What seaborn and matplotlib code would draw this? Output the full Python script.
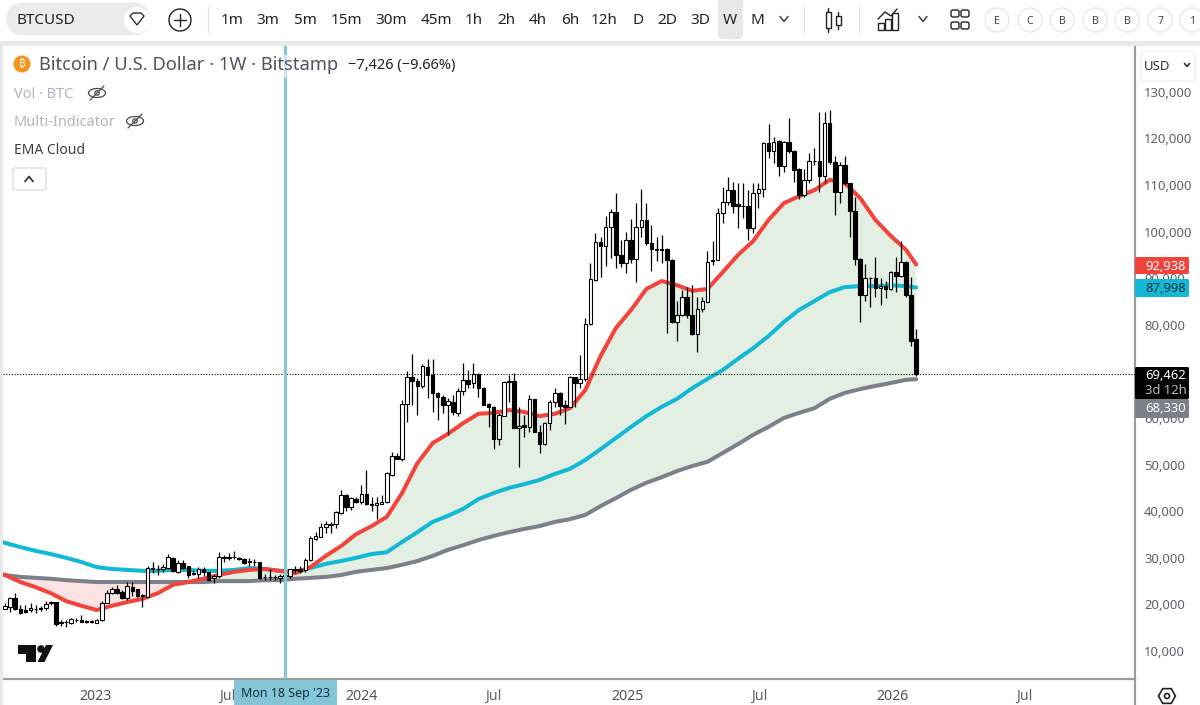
import numpy as np
import pandas as pd
import seaborn as sns
import matplotlib
matplotlib.use('Agg')
from matplotlib import pyplot as plt
from matplotlib.patches import Rectangle, Circle, FancyBboxPatch, Polygon, Ellipse, RegularPolygon

# weekly candles, thousands of USD, first bar is Mon 29 Aug 2022
first_week = '2022-08-29'
opens = [19.1, 19.5, 21.45, 19.0, 18.8, 18.7, 19.1, 19.0, 19.2, 20.2, 20.5, 16.3, 16.3, 16.1, 16.7, 16.6, 16.4, 16.4, 16.1, 16.7,
         20.4, 22.4, 23.4, 22.7, 21.3, 23.8, 23.2, 22.1, 21.6, 27.6, 27.6, 27.5, 27.9, 30.0, 27.0, 28.8, 28.2, 26.7, 26.5, 27.7,
         26.9, 25.6, 26.0, 30.2, 30.0, 30.2, 30.0, 29.7, 29.4, 29.2, 29.0, 25.8, 25.9, 25.9, 25.6, 26.3, 26.0, 27.7, 27.6, 27.4,
         29.5, 34.0, 34.5, 36.7, 37.0, 37.2, 39.7, 43.5, 41.0, 42.6, 42.0, 43.6, 41.5, 41.4, 41.6, 42.0, 47.8, 51.9, 51.1, 62.9,
         68.7, 68.0, 66.9, 71.0, 69.3, 65.4, 64.6, 62.8, 63.5, 61.0, 65.9, 68.2, 67.5, 69.4, 66.4, 63.0, 62.4, 55.4, 60.5, 67.8,
         68.0, 57.8, 58.4, 58.0, 64.0, 56.9, 54.4, 58.9, 63.4, 65.4, 62.7, 62.4, 68.7, 67.6, 68.4, 80.2, 89.6, 97.7, 97.0, 100.9,
         104.3, 95.0, 93.2, 98.2, 94.1, 100.9, 102.5, 97.5, 96.3, 96.2, 96.2, 94.0, 80.5, 82.2, 85.9, 82.1, 78.0, 83.4, 85.0, 93.6,
         93.9, 104.0, 106.4, 108.9, 105.9, 105.6, 105.5, 100.7, 108.2, 109.1, 119.1, 117.2, 119.5, 114.0, 119.2, 117.3, 113.4, 107.9, 111.1, 115.2,
         115.2, 112.0, 123.4, 115.0, 108.4, 114.4, 110.4, 104.5, 94.1, 86.5, 90.1, 90.1, 88.0, 88.4, 87.6, 91.3, 90.5, 93.4, 86.3, 76.888]
highs = [20.2, 21.66, 22.4, 19.9, 19.9, 20.2, 19.9, 19.7, 20.7, 20.8, 20.6, 16.7, 16.7, 17.0, 17.0, 17.7, 16.7, 16.6, 16.8, 20.7,
         23.1, 23.7, 24.2, 23.1, 24.9, 24.9, 23.4, 22.3, 28.2, 29.2, 28.4, 28.6, 30.75, 30.2, 29.5, 29.5, 28.3, 27.4, 28.1, 28.1,
         27.0, 26.5, 31.2, 30.7, 31.0, 31.45, 30.1, 29.9, 29.9, 29.7, 29.2, 26.5, 27.7, 26.3, 26.5, 26.7, 27.7, 28.3, 28.3, 30.0,
         34.7, 35.6, 37.4, 37.8, 37.7, 40.1, 44.6, 43.6, 43.1, 43.1, 45.6, 48.8, 43.1, 43.1, 43.4, 48.5, 52.8, 52.5, 63.9, 70.0,
         73.7, 68.5, 71.6, 72.6, 72.6, 65.6, 64.9, 64.2, 65.0, 66.4, 71.7, 70.3, 71.7, 69.7, 66.6, 63.2, 62.5, 61.0, 68.0, 69.2,
         69.7, 62.4, 60.6, 65.0, 64.1, 58.5, 59.2, 63.9, 66.4, 65.6, 63.9, 69.0, 68.8, 73.5, 81.4, 93.3, 99.6, 98.9, 103.4, 104.8,
         108.2, 98.2, 100.0, 102.6, 106.2, 109.1, 106.2, 101.4, 98.8, 99.3, 96.4, 94.2, 85.2, 87.5, 88.2, 88.5, 86.0, 86.0, 95.8, 98.0,
         105.0, 109.6, 111.8, 110.7, 110.5, 110.5, 108.9, 110.4, 110.4, 119.3, 123.1, 120.4, 119.7, 119.5, 124.3, 117.5, 113.6, 113.4, 116.8, 117.9,
         125.7, 125.7, 126.2, 116.2, 115.0, 116.2, 110.5, 107.4, 94.3, 93.0, 90.3, 94.5, 90.0, 89.3, 91.6, 94.6, 97.9, 93.6, 90.2, 79.0]
lows = [18.95, 18.45, 18.9, 17.95, 18.1, 18.45, 18.1, 18.5, 18.9, 19.8, 15.4, 15.4, 15.2, 15.9, 16.3, 16.2, 16.1, 16.0, 16.0, 16.5,
        20.2, 22.2, 22.2, 21.1, 21.0, 21.8, 21.5, 19.4, 21.5, 26.7, 26.4, 26.9, 27.7, 27.0, 26.7, 27.6, 25.6, 26.3, 25.6, 26.0,
        25.0, 24.5, 25.7, 29.2, 29.5, 29.7, 29.5, 28.6, 28.3, 28.3, 25.45, 25.2, 25.2, 25.2, 24.7, 25.7, 25.7, 26.7, 26.7, 26.9,
        29.4, 33.8, 34.4, 35.3, 35.3, 36.5, 39.5, 40.1, 40.3, 41.7, 41.5, 41.3, 40.1, 38.4, 41.5, 41.8, 47.6, 51.1, 50.8, 59.2,
        62.8, 60.6, 66.4, 64.4, 61.3, 59.6, 61.0, 56.4, 60.7, 60.4, 65.0, 66.4, 66.4, 64.6, 62.7, 58.1, 53.3, 54.2, 60.5, 63.5,
        57.8, 49.4, 56.0, 57.1, 56.9, 52.4, 54.2, 57.4, 62.4, 60.6, 58.7, 62.4, 62.3, 66.5, 68.0, 80.0, 89.5, 90.3, 92.6, 94.3,
        92.1, 92.3, 91.2, 93.2, 89.2, 98.9, 97.1, 91.6, 93.6, 93.2, 78.2, 80.3, 76.6, 81.9, 81.4, 77.8, 74.2, 82.8, 85.0, 92.8,
        93.9, 101.8, 105.7, 103.9, 100.8, 102.9, 98.2, 99.6, 105.0, 107.5, 115.7, 114.7, 112.0, 112.7, 116.8, 110.7, 107.1, 107.5, 110.4, 114.3,
        108.6, 110.4, 114.6, 103.6, 106.2, 110.0, 98.9, 92.8, 80.5, 85.2, 83.8, 86.0, 84.2, 85.7, 87.5, 87.1, 90.3, 86.0, 75.5, 69.0]
closes = [19.73, 21.45, 19.0, 18.2, 18.3, 19.3, 19.0, 19.2, 20.0, 20.6, 15.8, 16.1, 16.2, 16.8, 16.6, 16.3, 16.3, 16.2, 16.7, 20.4,
          22.4, 23.4, 22.4, 21.3, 24.0, 22.9, 21.8, 21.8, 27.8, 27.9, 27.7, 28.0, 30.1, 27.2, 28.8, 27.9, 26.4, 26.6, 27.7, 26.9,
          25.2, 26.0, 30.1, 30.0, 30.2, 30.1, 29.8, 28.8, 29.0, 29.0, 25.7, 25.9, 25.8, 25.8, 26.2, 26.1, 27.6, 27.4, 27.2, 29.5,
          34.2, 34.7, 36.7, 37.2, 37.2, 39.8, 43.5, 41.0, 42.8, 42.0, 43.6, 41.5, 41.4, 41.7, 42.0, 48.1, 51.9, 51.3, 63.0, 68.7,
          68.0, 66.9, 71.2, 69.2, 65.4, 64.6, 62.8, 63.7, 61.2, 65.9, 68.2, 67.4, 69.4, 66.4, 62.8, 62.3, 55.4, 60.6, 67.8, 68.0,
          57.8, 58.3, 58.0, 64.1, 56.9, 54.4, 58.9, 63.4, 65.4, 62.6, 62.4, 68.7, 67.6, 68.4, 80.2, 89.8, 97.7, 97.0, 100.9, 104.3,
          95.0, 93.2, 98.2, 94.1, 100.9, 102.4, 97.5, 96.2, 96.0, 96.0, 93.9, 80.5, 82.2, 85.9, 82.1, 78.0, 83.5, 85.1, 93.4, 94.0,
          104.1, 106.4, 108.9, 105.4, 105.6, 105.5, 100.7, 108.2, 109.1, 119.1, 117.2, 119.3, 114.0, 119.2, 117.2, 113.2, 107.9, 111.1, 115.2, 115.1,
          112.0, 123.4, 115.0, 108.4, 114.4, 110.4, 104.5, 94.1, 86.5, 90.1, 90.0, 87.8, 88.4, 87.6, 91.3, 90.5, 93.4, 86.3, 76.6, 69.462]

# EMA cloud read every third week, thousands of USD
ema_weeks = list(range(-3, 178, 3)) + [179]
ema_fast = [27.4, 26.3, 24.8, 23.7, 22.4, 20.7, 19.7, 18.8, 19.7, 20.5, 21.2, 22.4, 24.2, 24.8, 25.5, 26.3, 27.0, 27.4, 27.6, 27.2,
            26.7, 28.0, 30.4, 32.5, 35.1, 36.8, 38.8, 43.9, 50.3, 54.6, 56.6, 58.9, 60.9, 61.1, 61.7, 61.3, 60.4, 60.9, 62.1, 66.0,
            73.3, 79.3, 83.2, 87.7, 89.4, 88.5, 87.3, 87.7, 91.3, 95.0, 98.0, 102.5, 106.1, 107.6, 108.9, 111.1, 110.4, 107.2, 102.5, 99.1,
            96.1, 92.938]
ema_mid = [34.5, 33.2, 32.3, 31.5, 30.8, 30.0, 29.1, 28.0, 27.6, 27.4, 27.2, 27.2, 27.4, 27.4, 27.2, 27.2, 27.4, 27.8, 27.6, 27.2,
           27.0, 27.8, 28.7, 29.3, 30.0, 30.8, 31.2, 33.4, 35.5, 37.7, 39.0, 40.5, 42.6, 43.9, 45.0, 45.8, 46.7, 48.0, 49.1, 51.0,
           53.3, 55.7, 58.1, 60.4, 62.4, 64.1, 66.4, 68.4, 70.3, 72.7, 75.0, 77.6, 80.6, 83.2, 85.1, 87.0, 88.1, 88.3, 88.3, 88.5,
           88.3, 87.998]
ema_slow = [26.5, 26.3, 25.9, 25.7, 25.5, 25.2, 25.0, 24.8, 24.8, 24.8, 24.8, 24.8, 24.8, 24.8, 24.8, 25.0, 25.0, 25.0, 25.2, 25.2,
            25.5, 25.7, 25.9, 26.3, 27.0, 27.4, 27.8, 28.5, 29.3, 30.4, 31.7, 32.7, 33.8, 34.7, 35.5, 36.2, 36.8, 37.7, 38.3, 39.2,
            41.1, 42.8, 44.6, 46.1, 47.3, 48.6, 49.7, 50.6, 52.5, 54.4, 56.4, 58.1, 60.0, 61.1, 62.1, 64.1, 65.4, 66.2, 66.9, 67.5,
            68.2, 68.33]

last_close = 69462
price_ticks = list(range(10000, 130001, 10000))
time_ticks = ['2023-01-01', '2023-07-01', '2024-01-01', '2024-07-01', '2025-01-01', '2025-07-01', '2026-01-01', '2026-07-01']
time_labels = ['2023', 'Jul', '2024', 'Jul', '2025', 'Jul', '2026', 'Jul']
intervals = ['1m', '3m', '5m', '15m', '30m', '45m', '1h', '2h', '4h', '6h', '12h', 'D', '2D', '3D', 'W', 'M']
interval_x = [232, 268, 305, 346, 391, 436, 474, 506, 538, 570, 604, 638, 667, 700, 730, 757]
badges = ['E', 'C', 'B', 'B', 'B', '7', '1']
badge_x = [997, 1030, 1062, 1095, 1127, 1160, 1192]

sns.set_theme(style='white')
plt.rcParams['font.family'] = ['Noto Sans', 'Inter', 'Roboto', 'Open Sans', 'Lato', 'Liberation Sans', 'DejaVu Sans']

RED = '#f2443a'
TEAL = '#12b8d4'
GRAY = '#7d7f8a'
CROSS = '#84c6d8'
TXT = '#5f626c'

candles = pd.DataFrame({'open': opens, 'high': highs, 'low': lows, 'close': closes})
candles['week'] = pd.date_range(first_week, periods=len(candles), freq='7D')
for col in ['open', 'high', 'low', 'close']:
    candles[col] = candles[col] * 1000

ema = pd.DataFrame({'fast': ema_fast, 'mid': ema_mid, 'slow': ema_slow})
ema['week'] = [pd.Timestamp(first_week) + pd.Timedelta(days=7 * w) for w in ema_weeks]
for col in ['fast', 'mid', 'slow']:
    ema[col] = ema[col] * 1000

fig = plt.figure(figsize=(12, 7.05), dpi=100, facecolor='white')
ax = fig.add_axes([3 / 1200, 1 - 679 / 705, 1132 / 1200, 633 / 705])

# cloud, then the three emas, candles on top
ax.fill_between(ema['week'], ema['fast'], ema['slow'], where=ema['fast'] >= ema['slow'], interpolate=True,
                color='#e3efe3', lw=0, zorder=1)
ax.fill_between(ema['week'], ema['fast'], ema['slow'], where=ema['fast'] <= ema['slow'], interpolate=True,
                color='#fde3e3', lw=0, zorder=1)
sns.lineplot(data=ema, x='week', y='slow', color=GRAY, linewidth=2.9, ax=ax, zorder=2, solid_joinstyle='round')
sns.lineplot(data=ema, x='week', y='mid', color=TEAL, linewidth=2.9, ax=ax, zorder=2, solid_joinstyle='round')
sns.lineplot(data=ema, x='week', y='fast', color=RED, linewidth=2.9, ax=ax, zorder=2, solid_joinstyle='round')

ax.vlines(candles['week'], candles['low'], candles['high'], color='black', lw=0.9, zorder=3)
up = candles['close'] >= candles['open']
body_days = 4.9
ax.bar(candles['week'][up], (candles['close'] - candles['open'])[up], bottom=candles['open'][up], width=body_days,
       color='white', edgecolor='black', linewidth=0.8, zorder=4)
ax.bar(candles['week'][~up], (candles['open'] - candles['close'])[~up], bottom=candles['close'][~up], width=body_days,
       color='black', edgecolor='black', linewidth=0.8, zorder=4)

ax.axhline(last_close, color='black', lw=0.8, ls=(0, (1, 1.5)), zorder=3)
ax.axvline(pd.Timestamp('2023-09-18'), color=CROSS, lw=2.3, zorder=5)

week_px = 5.09
x0 = pd.Timestamp(first_week) - pd.Timedelta(days=2.05 / week_px * 7)
ax.set_xlim(x0, x0 + pd.Timedelta(days=1132 / week_px * 7))
ax.set_ylim(10000 + (651 - 679) * 214.6, 10000 + (651 - 46) * 214.6)

ax.yaxis.tick_right()
ax.set_yticks(price_ticks)
ax.set_yticklabels([f'{p:,}' for p in price_ticks], color=TXT, fontsize=9.4)
ax.set_xticks(pd.to_datetime(time_ticks))
ax.set_xticklabels(time_labels, fontsize=10.2)
for lab in ax.get_xticklabels():
    if lab.get_text() == 'Jul':
        lab.set_color(TXT)
    else:
        lab.set_color('#50535e')
        lab.set_fontweight('bold')
ax.tick_params(axis='y', length=0, pad=6.5)
ax.tick_params(axis='x', length=0, pad=7)
ax.set_xlabel('')
ax.set_ylabel('')
ax.grid(False)
for side in ['top', 'left']:
    ax.spines[side].set_visible(False)
for side in ['right', 'bottom']:
    ax.spines[side].set_color('#9b9ca2')
    ax.spines[side].set_linewidth(1.6)

# everything around the pane is drawn in pixel coordinates on a cover axes
ui = fig.add_axes([0, 0, 1, 1], facecolor='none')
ui.set_xlim(0, 1200)
ui.set_ylim(705, 0)
ui.axis('off')


def label(x, y, s, size=9.4, color=TXT, ha='left', weight='normal'):
    ui.text(x, y + 1, s, fontsize=size, color=color, ha=ha, va='center', fontweight=weight)


def eye(x, y):
    ui.add_patch(Ellipse((x, y), 17, 9, fill=False, ec='#4a4a4a', lw=0.9))
    ui.add_patch(Circle((x, y), 2.2, fill=False, ec='#4a4a4a', lw=0.9))
    ui.plot([x - 7, x + 7], [y + 7, y - 7], color='#4a4a4a', lw=0.9)


def chevron(x, y, w=4, h=2.5, flip=1, lw=1):
    ui.plot([x - w, x, x + w], [y - h * flip, y + h * flip, y - h * flip], color='#333333', lw=lw)


# top band and left strip
ui.add_patch(Rectangle((0, 41), 1200, 5, color='#e9e9e9', lw=0))
ui.add_patch(Rectangle((0, 41), 3, 664, color='#e9e9e9', lw=0))
ui.add_patch(FancyBboxPatch((10, 6), 136, 26, boxstyle='round,pad=0,rounding_size=13', mutation_aspect=1,
                            fc='#ececec', ec='#ececec', lw=5))
label(17, 20, 'BTCUSD', size=11, color='#222222', weight='semibold')
ui.add_patch(Circle((137, 20), 13, fc='white', ec='none'))
ui.add_patch(Polygon([(130, 16), (133, 13), (141, 13), (144, 16), (137, 25)], fill=False, ec='#333333', lw=1))
ui.add_patch(Circle((180, 20), 11, fill=False, ec='#222222', lw=1))
ui.plot([174, 186], [20, 20], color='#222222', lw=1)
ui.plot([180, 180], [14, 26], color='#222222', lw=1)
for sx in [208, 804, 859]:
    ui.plot([sx, sx], [7, 32], color='#e3e3e3', lw=1)

ui.add_patch(FancyBboxPatch((720, 0), 21, 37, boxstyle='round,pad=0,rounding_size=3', fc='#e8e8e8', ec='#e8e8e8', lw=3))
for tx, t in zip(interval_x, intervals):
    label(tx, 20, t, size=11, color='#222222', ha='center')
chevron(784, 19)

# candle icon
ui.plot([828, 828], [8, 32], color='#222222', lw=1)
ui.plot([838, 838], [12, 29], color='#222222', lw=1)
ui.add_patch(Rectangle((825.5, 12), 5, 16, fc='white', ec='#222222', lw=1, zorder=3))
ui.add_patch(Rectangle((835.5, 16), 5, 9, fc='white', ec='#222222', lw=1, zorder=3))
# indicators icon
ui.plot([878, 885, 891, 897], [19, 12, 16, 9], color='#222222', lw=1)
for bx, bh in [(878, 7), (885, 11), (892, 17)]:
    ui.add_patch(Rectangle((bx, 30 - bh), 6, bh, fill=False, ec='#222222', lw=1))
chevron(923, 19)
# layout icon
for gx in [951, 961]:
    for gy in [10, 22]:
        ui.add_patch(FancyBboxPatch((gx, gy), 8, 7, boxstyle='round,pad=0,rounding_size=2', fill=False, ec='#222222', lw=1))
for bx, t in zip(badge_x, badges):
    ui.add_patch(Circle((bx, 20), 12, fc='white', ec='#e8e8e8', lw=1))
    label(bx, 20, t, size=7.5, color='#444444', ha='center')

# legend block
ui.add_patch(Rectangle((283, 55), 5, 23, color='white', alpha=0.55, lw=0))
ui.add_patch(Circle((22, 64), 8.5, color='#f7931a', lw=0))
label(22, 64, '\u20bf', size=8, color='white', ha='center', weight='bold')
label(39, 64, 'Bitcoin / U.S. Dollar \u00b7 1W \u00b7 Bitstamp', size=13.2, color='#50535e')
label(348, 64, '\u22127,426 (\u22129.66%)', size=10.5, color='#222222')
label(14, 93, 'Vol \u00b7 BTC', size=10.5, color='#b2b5be')
eye(97, 93)
label(14, 121, 'Multi-Indicator', size=10.5, color='#b2b5be')
eye(135, 121)
label(14, 149, 'EMA Cloud', size=10, color='#3c3f47')
ui.add_patch(FancyBboxPatch((13, 168), 33, 22, boxstyle='round,pad=0,rounding_size=2', fc='white', ec='#dddddd', lw=1))
chevron(29, 179, flip=-1, lw=1.3)

# tradingview mark
ui.add_patch(Polygon([(17.5, 645), (36, 645), (36, 662), (26, 662), (26, 654), (17.5, 654)], fc='#111111', ec='none'))
ui.add_patch(Circle((41, 649), 3.8, fc='#111111', ec='none'))
ui.add_patch(Polygon([(46, 645), (53, 645), (44.5, 662), (37.5, 662)], fc='#111111', ec='none'))

# crosshair date tag
ui.add_patch(Rectangle((234, 680), 103, 25, color=CROSS, lw=0))
label(285.5, 693, "Mon 18 Sep '23", size=9, color='#14303a', ha='center')

# price scale
ui.plot([1135, 1135], [679, 705], color='#9b9ca2', lw=1.6)
ui.add_patch(FancyBboxPatch((1141, 51), 54, 30, boxstyle='round,pad=0,rounding_size=3', fc='white', ec='#eeeeee', lw=1))
label(1144, 65, 'USD', size=9.5, color='#333333')
chevron(1187, 65, w=2.5, h=1.5, lw=1.2)

for top, bottom, bg in [(257, 274, RED), (279, 297, TEAL), (367, 399, 'black'), (399, 418, GRAY)]:
    ui.add_patch(FancyBboxPatch((1135, top), 54, bottom - top, boxstyle='round,pad=0,rounding_size=1.5', fc=bg, ec='none'))
label(1145, 265, '92,938', color='white')
label(1145, 287.5, '87,998', color='#07303a')
label(1145, 374.5, '69,462', color='white')
label(1145, 389.5, '3d 12h', color='#b8b8b8')
label(1145, 408, '68,330', color='white')

# settings hexagon
ui.add_patch(RegularPolygon((1167, 696), 6, radius=8.5, orientation=np.pi / 2, fill=False, ec='#222222', lw=1.2))
ui.add_patch(Circle((1167, 696), 2.5, fill=False, ec='#222222', lw=1.2))

fig.savefig('out.png', dpi=100)
